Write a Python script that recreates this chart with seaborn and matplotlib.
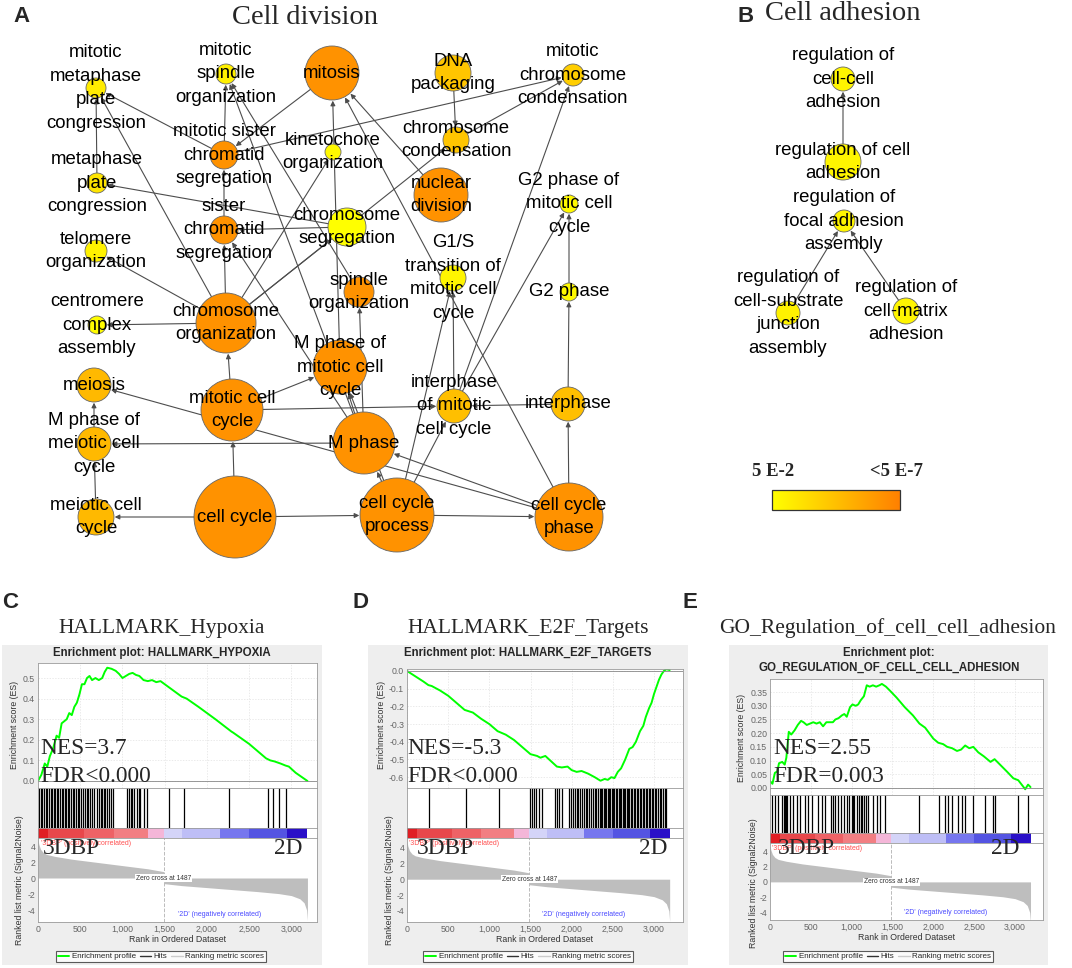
import numpy as np
import matplotlib
matplotlib.use("Agg")
import matplotlib.pyplot as plt
import seaborn as sns
from matplotlib.colors import LinearSegmentedColormap
from matplotlib.lines import Line2D
from matplotlib.patches import Rectangle
from matplotlib.cm import ScalarMappable

sns.set_theme(style="white")
plt.rcParams["font.family"] = ["Liberation Sans", "DejaVu Sans"]
SERIF = ["Liberation Serif", "DejaVu Serif"]

# ---------------- panel A: GO network "cell division" ----------------
a_terms = [
    "mitotic\nmetaphase\nplate\ncongression", "mitotic\nspindle\norganization", "mitosis",
    "DNA\npackaging", "mitotic\nchromosome\ncondensation", "mitotic sister\nchromatid\nsegregation",
    "kinetochore\norganization", "chromosome\ncondensation", "metaphase\nplate\ncongression",
    "nuclear\ndivision", "sister\nchromatid\nsegregation", "chromosome\nsegregation",
    "G2 phase of\nmitotic cell\ncycle", "telomere\norganization",
    "G1/S\ntransition of\nmitotic cell\ncycle", "spindle\norganization", "G2 phase",
    "centromere\ncomplex\nassembly", "chromosome\norganization", "M phase of\nmitotic cell\ncycle",
    "meiosis", "mitotic cell\ncycle", "interphase\nof mitotic\ncell cycle", "interphase",
    "M phase of\nmeiotic cell\ncycle", "M phase", "meiotic cell\ncycle", "cell cycle",
    "cell cycle\nprocess", "cell cycle\nphase",
]
a_x = [96, 226, 332, 453, 573, 224, 333, 456, 97, 441, 224, 347, 569, 96, 453,
       359, 569, 97, 226, 340, 94, 232, 454, 568, 94, 364, 96, 235, 397, 569]
a_y = [88, 74, 73, 73, 75, 155, 152, 140, 183, 195, 230, 227, 204, 251, 278,
       292, 292, 325, 323, 367, 385, 410, 406, 404, 444, 443, 517, 517, 515, 517]
a_radius = [10, 10, 27, 18, 11, 14, 8, 13, 10, 27, 14, 19, 9, 11, 13,
            15, 9, 9, 30, 27, 17, 31, 17, 17, 17, 31, 18, 41, 37, 34]
a_score = [0.15, 0.12, 0.85, 0.45, 0.38, 0.85, 0.05, 0.45, 0.2, 0.85, 0.85, 0.0, 0.05, 0.1, 0.08,
           0.85, 0.05, 0.02, 0.85, 0.85, 0.55, 0.85, 0.5, 0.5, 0.55, 0.85, 0.55, 0.85, 0.85, 0.85]
a_edges = [
    (27, 21), (27, 26), (27, 28), (28, 29), (29, 23), (23, 16), (16, 12), (29, 25), (29, 2),
    (29, 20), (26, 24), (24, 20), (25, 24), (21, 19), (21, 22), (23, 22), (22, 14), (22, 12),
    (22, 4), (28, 14), (28, 22), (28, 19), (28, 25), (25, 19), (25, 15), (19, 2), (15, 1),
    (25, 1), (5, 1), (10, 5), (18, 10), (2, 5), (5, 0), (8, 0), (11, 8), (11, 10), (18, 11),
    (18, 6), (18, 13), (18, 17), (18, 7), (3, 7), (7, 4), (5, 4), (18, 0), (25, 10), (9, 2),
    (21, 18),
]

# ---------------- panel B: GO network "cell adhesion" ----------------
b_terms = [
    "regulation of\ncell-cell\nadhesion", "regulation of cell\nadhesion",
    "regulation of\nfocal adhesion\nassembly", "regulation of\ncell-substrate\njunction\nassembly",
    "regulation of\ncell-matrix\nadhesion",
]
b_x = [843, 843, 844, 788, 906]
b_y = [79, 162, 221, 313, 311]
b_radius = [12, 18, 11, 12, 13]
b_score = [0.08, 0.08, 0.08, 0.1, 0.08]
b_edges = [(1, 0), (3, 2), (4, 2)]

# ---------------- GSEA data (C, D, E) ----------------
metric_rank = [0, 10, 30, 60, 100, 200, 400, 700, 1000, 1300, 1486, 1488, 1700, 2000,
               2300, 2600, 2850, 3000, 3100, 3150, 3180, 3190]
metric_value = [4.8, 4.2, 3.6, 3.2, 2.95, 2.7, 2.35, 1.95, 1.55, 1.15, 0.8, -0.7, -0.95, -1.2,
                -1.45, -1.7, -1.95, -2.2, -2.6, -3.1, -4.0, -5.3]
ribbon_edges = [0, 120, 550, 900, 1300, 1487, 1700, 2150, 2500, 2950, 3190]
ribbon_colors = ["#E01E24", "#E8474B", "#EE6266", "#F27E82", "#F4B6D8",
                 "#D4D4F8", "#BEBEF6", "#7676EE", "#5454E2", "#2A10C8"]

hypoxia_rank = [0, 40, 80, 110, 140, 180, 220, 250, 280, 310, 340, 370, 400, 430, 460, 490, 520,
                550, 580, 610, 640, 680, 720, 760, 790, 820, 870, 920, 960, 1000, 1040, 1080, 1120,
                1160, 1200, 1250, 1300, 1350, 1400, 1450, 1500, 1600, 1700, 1760, 1900, 2100, 2290,
                2310, 2500, 2700, 2750, 2800, 2870, 2930, 2970, 3050, 3190]
hypoxia_es = [0.0, 0.03, 0.085, 0.07, 0.12, 0.16, 0.22, 0.21, 0.28, 0.29, 0.30, 0.33, 0.32, 0.36,
              0.38, 0.42, 0.47, 0.47, 0.50, 0.51, 0.49, 0.50, 0.49, 0.50, 0.53, 0.55, 0.545, 0.535,
              0.52, 0.50, 0.51, 0.52, 0.525, 0.515, 0.51, 0.49, 0.485, 0.49, 0.48, 0.485, 0.47,
              0.44, 0.41, 0.40, 0.36, 0.30, 0.24, 0.235, 0.18, 0.11, 0.10, 0.095, 0.085, 0.075,
              0.07, 0.04, 0.0]
hypoxia_hits = [12, 30, 52, 75, 90, 110, 128, 150, 170, 186, 205, 222, 240, 262, 281, 298, 318,
                333, 352, 371, 390, 412, 430, 448, 470, 489, 510, 528, 552, 575, 596, 612, 640,
                668, 700, 722, 741, 760, 778, 795, 812, 835, 860, 893, 1050, 1078, 1098, 1112,
                1140, 1168, 1190, 1212, 1258, 1290, 1547, 1726, 2262, 2718, 2778, 2856, 2936]

e2f_rank = [0, 100, 200, 260, 300, 400, 500, 600, 700, 800, 900, 1000, 1100, 1200, 1300, 1400,
            1500, 1580, 1620, 1680, 1750, 1820, 1880, 1950, 2000, 2060, 2120, 2200, 2280, 2350,
            2400, 2440, 2480, 2520, 2560, 2600, 2650, 2700, 2740, 2780, 2830, 2870, 2900, 2940,
            2970, 3000, 3030, 3060, 3090, 3120, 3150, 3190]
e2f_es = [0.0, -0.03, -0.06, -0.08, -0.085, -0.11, -0.14, -0.18, -0.22, -0.235, -0.27, -0.30,
          -0.34, -0.36, -0.39, -0.43, -0.47, -0.48, -0.49, -0.48, -0.51, -0.54, -0.545, -0.54,
          -0.56, -0.57, -0.565, -0.58, -0.60, -0.62, -0.61, -0.615, -0.60, -0.605, -0.57, -0.55,
          -0.50, -0.44, -0.43, -0.40, -0.34, -0.31, -0.26, -0.21, -0.18, -0.13, -0.09, -0.05,
          -0.02, 0.0, 0.01, 0.005]
e2f_hits = [267, 713, 1118, 1496, 1520, 1545, 1562, 1600, 1640, 1800, 1822, 1850, 1885, 1965,
            1990, 2010, 2035, 2062, 2080, 2100, 2128, 2150, 2168, 2192, 2215, 2240, 2262, 2285,
            2300, 2322, 2340, 2356, 2372, 2390, 2405, 2421, 2440, 2455, 2470, 2488, 2502, 2520,
            2536, 2552, 2570, 2585, 2600, 2618, 2635, 2650, 2668, 2684, 2700, 2720, 2738, 2755,
            2770, 2790, 2808, 2825, 2845, 2862, 2880, 2900, 2918, 2935, 2955, 2972, 2990, 3010,
            3030, 3050, 3068, 3090, 3110, 3130, 3150]

adhesion_rank = [0, 30, 60, 90, 110, 150, 180, 200, 230, 260, 300, 340, 380, 410, 450, 490, 530,
                 570, 610, 650, 690, 730, 770, 800, 840, 880, 910, 940, 980, 1010, 1050, 1080,
                 1110, 1150, 1185, 1220, 1260, 1300, 1340, 1370, 1420, 1470, 1550, 1650, 1750,
                 1830, 1900, 2000, 2060, 2120, 2170, 2230, 2290, 2340, 2390, 2440, 2490, 2550,
                 2620, 2700, 2750, 2800, 2900, 2980, 3040, 3100, 3125, 3160, 3190]
adhesion_es = [0.025, 0.015, 0.055, 0.06, 0.09, 0.095, 0.085, 0.11, 0.205, 0.195, 0.21, 0.23,
               0.245, 0.24, 0.23, 0.235, 0.24, 0.235, 0.24, 0.225, 0.24, 0.24, 0.24, 0.25, 0.255,
               0.265, 0.27, 0.26, 0.295, 0.305, 0.30, 0.305, 0.32, 0.335, 0.375, 0.37, 0.375,
               0.37, 0.375, 0.38, 0.37, 0.355, 0.33, 0.295, 0.265, 0.235, 0.22, 0.18, 0.165,
               0.16, 0.15, 0.145, 0.135, 0.14, 0.155, 0.145, 0.15, 0.13, 0.115, 0.095, 0.105,
               0.09, 0.06, 0.035, 0.028, 0.005, -0.005, 0.012, 0.003]
adhesion_hits = [21, 62, 102, 143, 170, 184, 196, 213, 245, 286, 335, 368, 429, 470, 510, 592,
                 633, 674, 743, 767, 796, 837, 865, 906, 939, 971, 1000, 1015, 1029, 1061, 1094,
                 1110, 1122, 1151, 1175, 1204, 1265, 1306, 1347, 1408, 1828, 2073, 2142, 2183,
                 2224, 2306, 2346, 2387, 2489, 2632, 2734, 2750, 3040, 3162]

zero_cross = 1487

# ---------------- figure ----------------
W, H = 1072, 968
fig = plt.figure(figsize=(W / 100, H / 100), dpi=100)
PT = 0.72  # points per pixel at dpi 100


def fx(x):
    return x / W


def fy(y):
    return 1 - y / H


def px_ax(x0, y0, x1, y1):
    return fig.add_axes([fx(x0), fy(y1), (x1 - x0) / W, (y1 - y0) / H])


pval_cmap = LinearSegmentedColormap.from_list("pval", ["#FFFF00", "#FF7F00"])

net = px_ax(0, 0, W, 560)
net.set_xlim(0, W)
net.set_ylim(560, 0)
net.axis("off")


def draw_network(terms, xs, ys, rs, scores, edges):
    for s, d in edges:
        net.annotate("", xy=(xs[d], ys[d]), xytext=(xs[s], ys[s]),
                     arrowprops=dict(arrowstyle="-|>", color="#4D4D4D", lw=0.8,
                                     shrinkA=0, shrinkB=rs[d] * PT + 0.5, mutation_scale=7),
                     zorder=1)
    net.scatter(xs, ys, s=[(2 * r * PT) ** 2 for r in rs], c=scores, cmap=pval_cmap,
                vmin=0, vmax=1, edgecolors="#666666", linewidths=0.6, zorder=2)
    for t, x, y in zip(terms, xs, ys):
        net.text(x, y, t, ha="center", va="center", fontsize=13.4, linespacing=1.5,
                 color="black", zorder=3)


draw_network(a_terms, a_x, a_y, a_radius, a_score, a_edges)
draw_network(b_terms, b_x, b_y, b_radius, b_score, b_edges)

net.text(305, 18, "Cell division", family=SERIF, fontsize=20.5, ha="center", va="center")
net.text(843, 14, "Cell adhesion", family=SERIF, fontsize=20.5, ha="center", va="center")

for lab, x, y in [("A", 22, 16), ("B", 746, 16), ("C", 10, 603), ("D", 360, 603), ("E", 690, 603)]:
    fig.text(fx(x), fy(y), lab, fontsize=16, fontweight="bold", ha="center", va="center")

# colour scale
cax = px_ax(772, 490, 900, 510)
cb = fig.colorbar(ScalarMappable(cmap=pval_cmap), cax=cax, orientation="horizontal")
cb.set_ticks([])
cb.outline.set_edgecolor("#333333")
cb.outline.set_linewidth(0.9)
fig.text(fx(773), fy(472), "5 E-2", family=SERIF, fontsize=13.5, fontweight="bold",
         ha="center", va="center")
fig.text(fx(897), fy(472), "<5 E-7", family=SERIF, fontsize=13.5, fontweight="bold",
         ha="center", va="center")

# ---------------- GSEA panels ----------------
SMALL = 6.3
SPINE = "#9A9A9A"


def style_box(ax):
    for sp in ax.spines.values():
        sp.set_color(SPINE)
        sp.set_linewidth(0.6)
    ax.set_facecolor("white")


def draw_gsea(g, es_rank, es_val, hits, serif_title, plot_title, nes, fdr, es_ticks, es_fmt):
    x0, y0, x1, y1 = g["bg"]
    fig.add_artist(Rectangle((fx(x0), fy(y1)), (x1 - x0) / W, (y1 - y0) / H,
                             transform=fig.transFigure, facecolor="#EEEEEE", edgecolor="none",
                             zorder=0))
    fig.text(fx(g["serif"][0]), fy(g["serif"][1]), serif_title, family=SERIF, fontsize=15.5,
             ha="center", va="center")
    for line, (tx, ty) in zip(plot_title, g["ptitle"]):
        fig.text(fx(tx), fy(ty), line, fontsize=8.3, fontweight="bold", ha="center", va="center")

    ex0, ey0, ex1, ey1 = g["es"]
    xlim = (0, g["xmax"])
    xticks = [0, 500, 1000, 1500, 2000, 2500, 3000]

    ax_es = px_ax(ex0, ey0, ex1, ey1)
    style_box(ax_es)
    sns.lineplot(x=es_rank, y=es_val, ax=ax_es, color="#00FF00", linewidth=1.4)
    ax_es.axhline(0, color="#888888", lw=0.6)
    ax_es.set_xlim(xlim)
    ax_es.set_ylim(g["es_ylim"])
    ax_es.set_xticks(xticks)
    ax_es.set_yticks(es_ticks)
    ax_es.set_yticklabels([es_fmt.format(v) for v in es_ticks])
    ax_es.tick_params(length=0, labelsize=SMALL, labelcolor="#666666", pad=2, labelbottom=False)
    ax_es.grid(True, color="#E2E2E2", lw=0.5, ls=(0, (2, 2)))

    ax_hit = px_ax(ex0, ey1, ex1, g["hit"])
    style_box(ax_hit)
    ax_hit.vlines(hits, 0, 1, color="black", lw=0.9)
    ax_hit.set_xlim(xlim)
    ax_hit.set_ylim(0, 1)
    ax_hit.set_xticks([])
    ax_hit.set_yticks([])

    ax_rib = px_ax(ex0, g["hit"], ex1, g["rib"])
    style_box(ax_rib)
    for a, b, c in zip(ribbon_edges[:-1], ribbon_edges[1:], ribbon_colors):
        ax_rib.axvspan(a, b, color=c, lw=0)
    ax_rib.set_xlim(xlim)
    ax_rib.set_xticks([])
    ax_rib.set_yticks([])

    ax_m = px_ax(ex0, g["rib"], ex1, g["met"])
    style_box(ax_m)
    ax_m.fill_between(metric_rank, metric_value, 0, color="#BEBEBE", lw=0)
    ax_m.axvline(zero_cross, color="#BBBBBB", lw=0.7, ls="--")
    ax_m.set_xlim(xlim)
    ax_m.set_ylim(g["met_ylim"])
    ax_m.set_xticks(xticks)
    ax_m.set_xticklabels([f"{v:,}" for v in xticks])
    ax_m.set_yticks([-4, -2, 0, 2, 4])
    ax_m.set_yticklabels(["-4", "-2", "0", "2", "4"])
    ax_m.tick_params(length=0, labelsize=SMALL, labelcolor="#666666", pad=2)
    ax_m.set_xlabel("Rank in Ordered Dataset", fontsize=SMALL, color="#333333", labelpad=1)
    ax_m.text(zero_cross, 0, "Zero cross at 1487", fontsize=4.8, ha="center", va="center",
              color="#333333", bbox=dict(facecolor="white", edgecolor="none", pad=0.4))
    ax_m.text(30, g["met_ylim"][1] - 0.3, "'3DBP' (positively correlated)", fontsize=5,
              color="#FF5050", ha="left", va="top")
    ax_m.text(2150, g["met_ylim"][0] + 0.5, "'2D' (negatively correlated)", fontsize=5,
              color="#4A4AFF", ha="center", va="bottom")

    fig.text(fx(g["es_lab"][0]), fy(g["es_lab"][1]), "Enrichment score (ES)", rotation=90,
             fontsize=SMALL, color="#333333", ha="center", va="center")
    fig.text(fx(g["met_lab"][0]), fy(g["met_lab"][1]), "Ranked list metric (Signal2Noise)",
             rotation=90, fontsize=SMALL, color="#333333", ha="center", va="center")

    fig.text(fx(g["nes"][0]), fy(g["nes"][1]), nes, family=SERIF, fontsize=16.8,
             ha="left", va="center")
    fig.text(fx(g["nes"][0]), fy(g["fdr_y"]), fdr, family=SERIF, fontsize=16.8,
             ha="left", va="center")
    fig.text(fx(g["bp"][0]), fy(g["bp"][1]), "3DBP", family=SERIF, fontsize=16.8,
             ha="left", va="center")
    fig.text(fx(g["d2"][0]), fy(g["d2"][1]), "2D", family=SERIF, fontsize=16.8,
             ha="right", va="center")

    handles = [Line2D([], [], color="#00FF00", lw=1.4), Line2D([], [], color="#333333", lw=1),
               Line2D([], [], color="#CCCCCC", lw=1)]
    leg = fig.legend(handles, ["Enrichment profile", "Hits", "Ranking metric scores"],
                     loc="center", bbox_to_anchor=(fx(g["leg"][0]), fy(g["leg"][1])),
                     ncol=3, fontsize=5.8, frameon=True, fancybox=False, edgecolor="#333333",
                     handlelength=1.4, columnspacing=0.5, borderpad=0.25, handletextpad=0.3)
    leg.get_frame().set_linewidth(0.8)


geo_c = dict(bg=(2, 645, 322, 965), serif=(162, 628), ptitle=[(162, 653)],
             es=(38, 663, 317, 788), hit=828, rib=838, met=922, xmax=3303,
             es_ylim=(-0.034, 0.573), met_ylim=(-5.5, 5.0), es_lab=(15, 725), met_lab=(20, 880),
             nes=(40, 748), fdr_y=777, bp=(43, 848), d2=(302, 848), leg=(161, 956.5))
geo_d = dict(bg=(368, 645, 688, 965), serif=(528, 628), ptitle=[(528, 653)],
             es=(407, 669, 683, 788), hit=828, rib=838, met=922, xmax=3352,
             es_ylim=(-0.661, 0.011), met_ylim=(-5.4, 5.2), es_lab=(382, 725), met_lab=(389, 880),
             nes=(407, 748), fdr_y=776, bp=(417, 848), d2=(667, 848), leg=(528, 956.5))
geo_e = dict(bg=(729, 645, 1048, 965), serif=(888, 628), ptitle=[(889, 653), (889, 668)],
             es=(770, 679, 1043, 795), hit=833, rib=843, met=920, xmax=3343,
             es_ylim=(-0.026, 0.398), met_ylim=(-5.0, 5.1), es_lab=(742, 738), met_lab=(753, 883),
             nes=(773, 748), fdr_y=776, bp=(778, 848), d2=(1019, 848), leg=(888, 956.5))

draw_gsea(geo_c, hypoxia_rank, hypoxia_es, hypoxia_hits, "HALLMARK_Hypoxia",
          ["Enrichment plot: HALLMARK_HYPOXIA"], "NES=3.7", "FDR<0.000",
          [0.0, 0.1, 0.2, 0.3, 0.4, 0.5], "{:.1f}")
draw_gsea(geo_d, e2f_rank, e2f_es, e2f_hits, "HALLMARK_E2F_Targets",
          ["Enrichment plot: HALLMARK_E2F_TARGETS"], "NES=-5.3", "FDR<0.000",
          [0.0, -0.1, -0.2, -0.3, -0.4, -0.5, -0.6], "{:.1f}")
draw_gsea(geo_e, adhesion_rank, adhesion_es, adhesion_hits, "GO_Regulation_of_cell_cell_adhesion",
          ["Enrichment plot:", "GO_REGULATION_OF_CELL_CELL_ADHESION"], "NES=2.55", "FDR=0.003",
          [0.0, 0.05, 0.10, 0.15, 0.20, 0.25, 0.30, 0.35], "{:.2f}")

fig.savefig("out.png", dpi=100)
